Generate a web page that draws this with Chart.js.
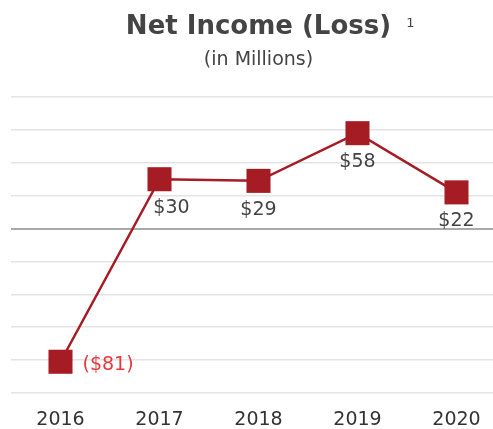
<!DOCTYPE html>
<html>
<head>
<meta charset="utf-8">
<script src="https://cdn.jsdelivr.net/npm/chart.js@4.4.0/dist/chart.umd.min.js"></script>
<style>
    html, body {margin: 0; padding: 0; background: #fff; overflow: hidden;}
    .wrap {width: 493px; height: 429px; overflow: hidden; position: relative;}
    #incomeChart {position: absolute; left: 0; top: 0;}
</style>
</head>
<body>
<div class="wrap"><canvas id="incomeChart" width="506" height="429"></canvas></div>
<script>
// ---------- Data ----------
const years = ['2016', '2017', '2018', '2019', '2020'];
const netIncome = [-81, 30, 29, 58, 22];
const yTicks = [-100, -80, -60, -40, -20, 0, 20, 40, 60, 80];

const titleText = 'Net Income (Loss)';
const footnoteMark = '1';
const subtitleText = '(in Millions)';

const lineColor = '#a51c24';
const textColor = '#444444';
const lossColor = '#e8383d';
const fontFamily = '"DejaVu Sans"';

// Header: title, footnote mark and subtitle, centred over the plot area
const headerPlugin = {
    id: 'header',
    afterDraw(chart) {
        const ctx = chart.ctx;
        const area = chart.chartArea;
        const cx = (area.left + area.right) / 2;
        ctx.save();
        ctx.fillStyle = textColor;
        ctx.textBaseline = 'alphabetic';
        ctx.textAlign = 'center';
        ctx.font = 'bold 26px ' + fontFamily;
        ctx.fillText(titleText, cx, 34);
        const w = ctx.measureText(titleText).width;
        ctx.font = '400 13px ' + fontFamily;
        ctx.textAlign = 'left';
        ctx.fillText(footnoteMark, cx + w / 2 + 15, 27);
        ctx.textAlign = 'center';
        ctx.font = '400 19px ' + fontFamily;
        ctx.fillText(subtitleText, cx, 65);
        ctx.restore();
    }
};

// Value labels: below each point, losses in red to the right
const valueLabels = {
    id: 'valueLabels',
    afterDatasetsDraw(chart) {
        const ctx = chart.ctx;
        const meta = chart.getDatasetMeta(0);
        const data = chart.data.datasets[0].data;
        ctx.save();
        ctx.font = '400 20px ' + fontFamily;
        ctx.textBaseline = 'middle';
        meta.data.forEach((pt, i) => {
            const v = data[i];
            if (v < 0) {
                ctx.fillStyle = lossColor;
                ctx.font = '400 19px ' + fontFamily;
                ctx.textAlign = 'left';
                ctx.fillText('($' + Math.abs(v) + ')', pt.x + 22, pt.y + 3);
            } else {
                // nudge right if the incoming segment rises steeply into the label
                const prev = i > 0 ? meta.data[i - 1] : null;
                const shift = prev && prev.y - pt.y > 60 ? 12 : 0;
                ctx.fillStyle = textColor;
                ctx.textAlign = 'center';
                ctx.fillText('$' + v, pt.x + shift, pt.y + 29);
            }
        });
        ctx.restore();
    }
};

const ctx = document.getElementById('incomeChart').getContext('2d');
const incomeChart = new Chart(ctx, {
    type: 'line',
    data: {
        labels: years,
        datasets: [{
            data: netIncome,
            borderColor: lineColor,
            borderWidth: 2.5,
            backgroundColor: lineColor,
            pointStyle: 'rect',
            pointRadius: 17,
            pointBorderWidth: 0,
            pointBackgroundColor: lineColor,
            tension: 0,
            fill: false
        }]
    },
    options: {
        responsive: false,
        animation: false,
        layout: {autoPadding: false, padding: {top: 97, left: 11, right: 0, bottom: 0}},
        plugins: {
            legend: {display: false},
            tooltip: {enabled: false},
            title: {display: false}
        },
        scales: {
            x: {
                offset: true,
                grid: {display: false},
                border: {display: false},
                afterFit: (axis) => { axis.height = 36; },
                ticks: {
                    color: '#333333',
                    font: {family: fontFamily, size: 19},
                    padding: 8
                }
            },
            y: {
                min: yTicks[0],
                max: yTicks[yTicks.length - 1],
                afterBuildTicks: (axis) => {
                    axis.ticks = yTicks.map((v) => ({value: v}));
                },
                border: {display: false},
                grid: {
                    drawTicks: false,
                    color: (c) => c.tick && c.tick.value === 0 ? '#a9a9a9' : '#e4e4e4',
                    lineWidth: (c) => c.tick && c.tick.value === 0 ? 2 : 1.5
                },
                ticks: {display: false}
            }
        }
    },
    plugins: [headerPlugin, valueLabels]
});
</script>
</body>
</html>
